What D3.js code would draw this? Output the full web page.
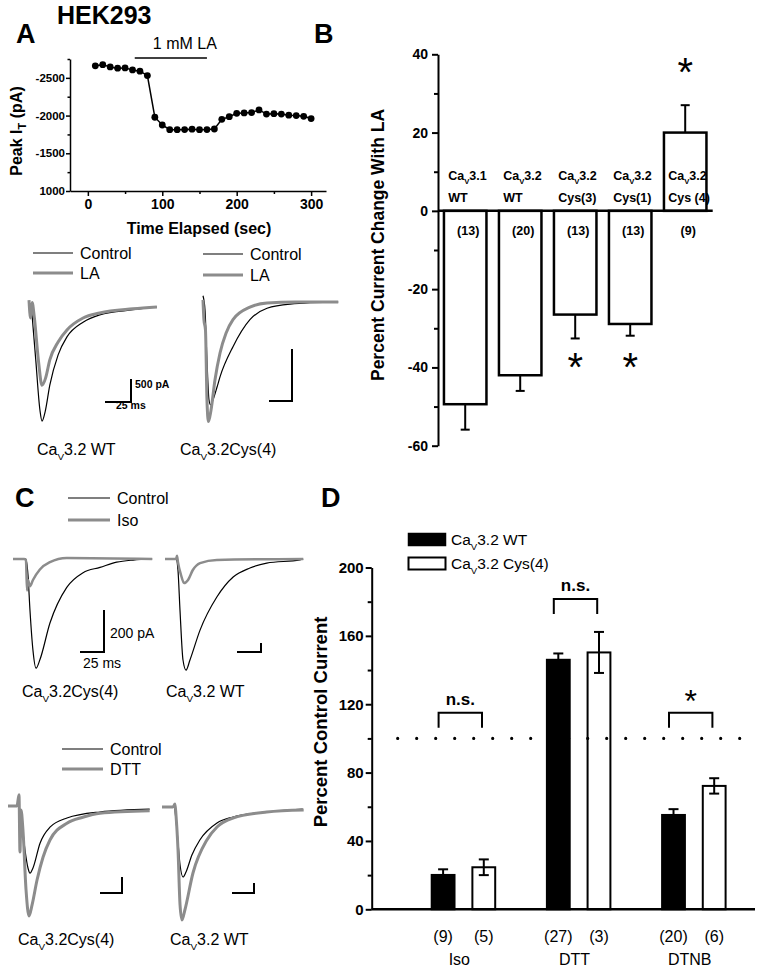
<!DOCTYPE html>
<html><head><meta charset="utf-8">
<script src="https://cdn.jsdelivr.net/npm/d3@7"></script>
<style>body{margin:0;background:#fff}svg{font-family:"Liberation Sans",Arial,sans-serif}</style>
</head><body>
<svg id="c" width="762" height="974"></svg>
<script>
// ---------- Panel A: time course ----------
const timeSec = [10,20,30,40,50,60,70,80,90,100,110,120,130,140,150,160,170,180,190,200,210,220,230,240,250,260,270,280,290,300];
const peakIT  = [2660,2675,2645,2628,2632,2605,2588,2530,1978,1875,1813,1813,1815,1820,1813,1815,1822,1950,1985,2030,2035,2040,2075,2020,2025,2020,2005,2000,1990,1960];
const laWindow = [63,160];
const aXTicks = [0,100,200,300];
const aXMinor = [50,150,250];
const aYTicks = [1000,1500,2000,2500];
const aYTickLabels = ["1000","-1500","-2000","-2500"];
const aYMinor = [1250,1750,2250,2750];

// ---------- Current traces: [time ms, current pA] ----------
const a1Ctrl = [[2,90],[6.5,-1150],[10.5,-2240],[12.5,-2480],[15.5,-2280],[20,-1700],[28,-1040],[36.5,-650],[52,-330],[68,-170],[100,-60],[123,0]];
const a1LA   = [[0,150],[1.5,-240],[3,100],[5,-200],[9,-1150],[12.5,-1700],[16,-1540],[20,-1150],[28,-760],[36.5,-500],[52,-240],[68,-130],[100,-40],[123,0]];
const a2Ctrl = [[0,60],[2.2,-80],[4.3,-560],[6.5,-940],[8.2,-990],[10.9,-940],[15.2,-820],[18.5,-720],[32.6,-430],[51,-170],[69.6,-60],[94.6,-20],[147,0]];
const a2LA   = [[0,20],[1,-170],[2.7,-270],[4.3,-940],[5.9,-1150],[8.7,-1040],[13,-750],[18.5,-490],[25,-300],[32.6,-170],[51,-50],[69.6,-10],[100,0],[147,0]];
const c1Ctrl = [[0,0],[13.5,0],[15.6,-75],[17.7,-245],[20.8,-435],[24,-520],[28,-480],[38.5,-305],[56,-135],[73,-65],[90.6,-40],[108,-15],[125,-5],[145,0]];
const c1Iso  = [[0,0],[11.5,0],[13.5,-5],[14.6,-150],[15.6,-100],[17.7,-130],[20.8,-100],[28,-50],[38.5,-15],[56,5],[145,0]];
const c2Ctrl = [[0,0],[11.5,0],[13.5,-245],[15.6,-1130],[18.75,-2245],[21.9,-2470],[26,-2245],[36.5,-1580],[54,-845],[71,-400],[88.5,-200],[106,-90],[140.6,-20],[144,0]];
const c2Iso  = [[0,0],[11.5,0],[12.5,70],[13.5,-70],[16.7,-355],[19.8,-535],[24,-465],[29,-245],[36.5,-90],[54,-20],[144,0]];
const c3Ctrl = [[0,0],[11.4,0],[14.8,-115],[19.3,-550],[22.7,-775],[25,-840],[28.4,-775],[36.4,-465],[47.7,-265],[67,-150],[104.5,-75],[161,-40]];
const c3DTT  = [[0,0],[10.2,0],[12.5,140],[13.6,-575],[14.8,-50],[17,-300],[20.5,-1050],[23.9,-1375],[27.3,-1240],[33,-925],[39.8,-640],[47.7,-425],[67,-215],[85,-140],[104.5,-90],[161,-60]];
const c4Ctrl = [[0,0],[13.6,0],[17,-460],[20.5,-1160],[23.9,-1400],[27.3,-1300],[34,-960],[43,-660],[62.5,-320],[80.7,-200],[119,-100],[160,-40]];
const c4DTT  = [[0,0],[12.5,0],[14.8,60],[15.9,-160],[18.2,-860],[20.5,-1960],[22.7,-2260],[26,-2060],[35.2,-1320],[51,-660],[62.5,-400],[80.7,-220],[119,-100],[161,-60]];

// ---------- Panel B ----------
const bLine1 = ["3.1","3.2","3.2","3.2","3.2"];
const bLine2 = ["WT","WT","Cys(3)","Cys(1)","Cys (4)"];
const bValues = [-49.4,-42.0,-26.5,-28.9,20.0];
const bErrors = [6.5,4.0,6.1,3.0,7.0];
const bN = ["(13)","(20)","(13)","(13)","(9)"];
const bStars = [null,null,-38.5,-38.5,36.8];
const bYTicks = [-60,-40,-20,0,20,40];
const bYMinor = [-50,-30,-10,10,30];

// ---------- Panel D ----------
const dGroups = ["Iso","DTT","DTNB"];
const dSeries = ["3.2 WT","3.2 Cys(4)"];
const dWT = [20.1,146.0,55.2];
const dWTErr = [3.3,3.7,3.4];
const dCys = [24.6,150.3,72.2];
const dCysErr = [4.6,12.0,4.5];
const dNWT = ["(9)","(27)","(20)"];
const dNCys = ["(5)","(3)","(6)"];
const dBracketY = [115,181.5,115];
const dBracketLabel = ["n.s.","n.s.","*"];
const dYTicks = [0,40,80,120,160,200];
const dYMinor = [20,60,100,140,180];
const dReference = 100;

const svg = d3.select("#c");
const GRAY = "#8c8c8c";
const plain = d => String(d);

function txt(g,x,y,s,size,bold,anchor){
  return g.append("text").attr("x",x).attr("y",y).attr("font-size",size)
    .attr("font-weight",bold?"bold":"normal").attr("text-anchor",anchor||"start").text(s);
}
function caText(g,x,y,rest,size,bold,anchor){
  const t = g.append("text").attr("x",x).attr("y",y).attr("font-size",size)
    .attr("font-weight",bold?"bold":"normal").attr("text-anchor",anchor||"start");
  t.append("tspan").text("Ca");
  t.append("tspan").attr("font-size",size*0.62).attr("dy",size*0.32).text("V");
  t.append("tspan").attr("dy",-size*0.32).text(rest);
  return t;
}
function styleAxis(g,size,sw){
  g.attr("font-family",null).attr("font-size",size).attr("font-weight","bold");
  g.selectAll("path,line").attr("stroke","#000").attr("stroke-width",sw);
  g.selectAll("text").attr("fill","#000");
}
function star(g,x,cy,size){
  return g.append("text").attr("x",x).attr("y",cy+size*0.48).attr("font-size",size)
    .attr("text-anchor","middle").text("*");
}

// ================= Panel A time course =================
const gA = svg.append("g");
txt(gA,57,24,"HEK293",25,true);
txt(gA,16,43,"A",27,true);
const ax = d3.scaleLinear().domain([-24,320]).range([70,326]);
const ay = d3.scaleLinear().domain([1000,2750]).range([191,59]);
const axB = gA.append("g").attr("transform","translate(0,191)")
  .call(d3.axisBottom(ax).tickValues(aXTicks).tickSize(5).tickPadding(3).tickSizeOuter(0).tickFormat(plain));
styleAxis(axB,14,1.5);
const axBm = gA.append("g").attr("transform","translate(0,191)")
  .call(d3.axisBottom(ax).tickValues(aXMinor).tickSize(3).tickFormat(""));
axBm.select(".domain").remove(); styleAxis(axBm,10,1.5);
const ayL = gA.append("g").attr("transform","translate(70,0)")
  .call(d3.axisLeft(ay).tickValues(aYTicks).tickSize(4).tickPadding(1).tickSizeOuter(0)
  .tickFormat((d,i)=>aYTickLabels[i]));
styleAxis(ayL,11.5,1.5);
const ayLm = gA.append("g").attr("transform","translate(70,0)")
  .call(d3.axisLeft(ay).tickValues(aYMinor).tickSize(2.5).tickFormat(""));
ayLm.select(".domain").remove(); styleAxis(ayLm,10,1.5);

const ptsA = timeSec.map((t,i)=>[t,peakIT[i]]);
gA.append("path").datum(ptsA).attr("fill","none").attr("stroke","#000").attr("stroke-width",1.5)
  .attr("d",d3.line().x(d=>ax(d[0])).y(d=>ay(d[1])));
gA.selectAll("circle.pt").data(ptsA).join("circle").attr("class","pt")
  .attr("cx",d=>ax(d[0])).attr("cy",d=>ay(d[1])).attr("r",3.4).attr("fill","#000");
gA.append("line").attr("x1",ax(laWindow[0])).attr("x2",ax(laWindow[1])).attr("y1",58).attr("y2",58)
  .attr("stroke","#000").attr("stroke-width",1.5);
txt(gA,(ax(laWindow[0])+ax(laWindow[1]))/2+14,49,"1 mM LA",16,false,"middle");
txt(gA,199,234,"Time Elapsed (sec)",16,true,"middle");
{
  const t = gA.append("text").attr("transform","translate(22,131) rotate(-90)")
    .attr("text-anchor","middle").attr("font-size",16).attr("font-weight","bold");
  t.append("tspan").text("Peak I");
  t.append("tspan").attr("font-size",11).attr("dy",4).text("T");
  t.append("tspan").attr("dy",-4).text(" (pA)");
}

// ================= Trace panels =================
function legend(g,x1,x2,y1,y2,l1,l2){
  g.append("line").attr("x1",x1).attr("x2",x2).attr("y1",y1).attr("y2",y1).attr("stroke","#000").attr("stroke-width",1.2);
  g.append("line").attr("x1",x1).attr("x2",x2).attr("y1",y2).attr("y2",y2).attr("stroke",GRAY).attr("stroke-width",3);
  txt(g,x2+7,y1+6,l1,16,false);
  txt(g,x2+7,y2+6,l2,16,false);
}
function tracePanel(cfg){
  const g = svg.append("g");
  const x = d3.scaleLinear().domain([0,1]).range([cfg.x0,cfg.x0+cfg.pxMs]);
  const y = d3.scaleLinear().domain([0,-1]).range([cfg.base,cfg.base+cfg.pxPA]);
  const line = d3.line().x(d=>x(d[0])).y(d=>y(d[1])).curve(d3.curveMonotoneX);
  g.append("path").datum(cfg.ctrl).attr("d",line).attr("fill","none").attr("stroke","#000").attr("stroke-width",1.2);
  g.append("path").datum(cfg.drug).attr("d",line).attr("fill","none").attr("stroke",GRAY).attr("stroke-width",cfg.gw||3).attr("stroke-linejoin","round");
  const hl = x(25)-x(0), vl = y(-cfg.sbPA)-y(0);
  g.append("path").attr("d",`M${cfg.sbX-hl},${cfg.sbY}H${cfg.sbX}V${cfg.sbY-vl}`)
    .attr("fill","none").attr("stroke","#000").attr("stroke-width",2);
  caText(g,cfg.tx,cfg.ty,cfg.title,16,false);
  return g;
}
const pA1 = tracePanel({x0:29,pxMs:1.04,base:307,pxPA:0.046,ctrl:a1Ctrl,drug:a1LA,sbX:131,sbY:402,sbPA:500,tx:37,ty:455,title:"3.2 WT"});
txt(pA1,135,388,"500 pA",10.5,true);
txt(pA1,116,409,"25 ms",10.5,true);
tracePanel({x0:203,pxMs:0.92,base:302,pxPA:0.104,ctrl:a2Ctrl,drug:a2LA,sbX:292,sbY:401,sbPA:500,tx:180,ty:455,title:"3.2Cys(4)"});
legend(svg,33,73,253,273,"Control","LA");
legend(svg,203,243,254,275,"Control","LA");

txt(svg,15,507,"C",27,true);
legend(svg,68,110,498,520,"Control","Iso");
const pC1 = tracePanel({x0:13,pxMs:0.96,base:559,pxPA:0.21,ctrl:c1Ctrl,drug:c1Iso,sbX:104,sbY:652,sbPA:200,tx:22,ty:697,title:"3.2Cys(4)",gw:2.5});
txt(pC1,110,638,"200 pA",14,false);
txt(pC1,83,668,"25 ms",14,false);
tracePanel({x0:165,pxMs:0.96,base:559,pxPA:0.045,ctrl:c2Ctrl,drug:c2Iso,sbX:261,sbY:652,sbPA:200,tx:166,ty:697,title:"3.2 WT",gw:2.5});
legend(svg,62,103,749,769,"Control","DTT");
tracePanel({x0:8,pxMs:0.88,base:806,pxPA:0.08,ctrl:c3Ctrl,drug:c3DTT,sbX:122,sbY:893,sbPA:200,tx:18,ty:945,title:"3.2Cys(4)"});
tracePanel({x0:162,pxMs:0.88,base:807,pxPA:0.05,ctrl:c4Ctrl,drug:c4DTT,sbX:254,sbY:893,sbPA:200,tx:170,ty:945,title:"3.2 WT"});

// ================= Panel B =================
const gB = svg.append("g");
txt(gB,314,43,"B",27,true);
const bx = d3.scaleBand().domain(d3.range(bValues.length)).range([442.7,707.7]).paddingInner(10/55).paddingOuter(0);
const by = d3.scaleLinear().domain([-60,40]).range([445.7,54.3]);
const bAx = gB.append("g").attr("transform","translate(438,0)")
  .call(d3.axisLeft(by).tickValues(bYTicks).tickSize(6).tickPadding(4).tickSizeOuter(0).tickFormat(plain));
styleAxis(bAx,14,2);
const bAxm = gB.append("g").attr("transform","translate(438,0)")
  .call(d3.axisLeft(by).tickValues(bYMinor).tickSize(4).tickFormat(""));
bAxm.select(".domain").remove(); styleAxis(bAxm,10,2);
bValues.forEach((v,i)=>{
  const x = bx(i), w = bx.bandwidth(), cx = x+w/2;
  gB.append("rect").attr("x",x+1.25).attr("y",by(Math.max(v,0))).attr("width",w-2.5)
    .attr("height",Math.abs(by(v)-by(0))).attr("fill","#fff").attr("stroke","#000").attr("stroke-width",2.5);
  const e = v<0 ? v-bErrors[i] : v+bErrors[i];
  gB.append("line").attr("x1",cx).attr("x2",cx).attr("y1",by(v)).attr("y2",by(e)).attr("stroke","#000").attr("stroke-width",2);
  gB.append("line").attr("x1",cx-4.5).attr("x2",cx+4.5).attr("y1",by(e)).attr("y2",by(e)).attr("stroke","#000").attr("stroke-width",2);
  caText(gB,cx-17,180,bLine1[i],12.5,true);
  txt(gB,cx-17,201.5,bLine2[i],12.5,true);
  txt(gB,cx+3,235,bN[i],12.5,true,"middle");
  if(bStars[i]!==null) star(gB,cx,by(bStars[i]),40);
});
gB.append("line").attr("x1",438).attr("x2",712.7).attr("y1",by(0)).attr("y2",by(0)).attr("stroke","#000").attr("stroke-width",2.5);
gB.append("text").attr("transform","translate(384,245) rotate(-90)").attr("text-anchor","middle")
  .attr("font-size",17.5).attr("font-weight","bold").text("Percent Current Change With LA");

// ================= Panel D =================
const gD = svg.append("g");
txt(gD,321,507,"D",27,true);
const dx0 = d3.scaleBand().domain(dGroups).range([405.7,751.3]);
const dx1 = d3.scaleBand().domain([0,1]).range([25,90.5]).paddingInner(0.39);
const dy = d3.scaleLinear().domain([0,200]).range([909.3,567.5]);
const dAx = gD.append("g").attr("transform","translate(371.7,0)")
  .call(d3.axisLeft(dy).tickValues(dYTicks).tickSize(6).tickPadding(2).tickSizeOuter(0).tickFormat(plain));
styleAxis(dAx,15,2);
const dAxm = gD.append("g").attr("transform","translate(371.7,0)")
  .call(d3.axisLeft(dy).tickValues(dYMinor).tickSize(4).tickFormat(""));
dAxm.select(".domain").remove(); styleAxis(dAxm,10,2);

const dSets = [{v:dWT,e:dWTErr,n:dNWT,fill:"#000"},{v:dCys,e:dCysErr,n:dNCys,fill:"#fff"}];
dGroups.forEach((grp,gi)=>{
  dSets.forEach((s,si)=>{
    const x = dx0(grp)+dx1(si), w = dx1.bandwidth(), cx = x+w/2, v = s.v[gi], e = s.e[gi];
    gD.append("rect").attr("x",x+1).attr("y",dy(v)).attr("width",w-2).attr("height",dy(0)-dy(v))
      .attr("fill",s.fill).attr("stroke","#000").attr("stroke-width",2);
    gD.append("line").attr("x1",cx).attr("x2",cx).attr("y1",dy(v-e)).attr("y2",dy(v+e)).attr("stroke","#000").attr("stroke-width",2);
    [v-e,v+e].forEach(k=>gD.append("line").attr("x1",cx-5).attr("x2",cx+5).attr("y1",dy(k)).attr("y2",dy(k)).attr("stroke","#000").attr("stroke-width",2));
    txt(gD,cx,941.7,s.n[gi],16,false,"middle");
  });
  const gc = dx0(grp)+dx0.bandwidth()/2;
  txt(gD,gc-4,965,grp,16,false,"middle");
  const bl = gc-3-21.7, br = gc-3+21.7, bt = dy(dBracketY[gi]);
  gD.append("path").attr("d",`M${bl},${bt+15}V${bt}H${br}V${bt+15}`).attr("fill","none").attr("stroke","#000").attr("stroke-width",2);
  if(dBracketLabel[gi]==="*") star(gD,gc-3,bt-16.5,32);
  else txt(gD,gc-3,bt-8,dBracketLabel[gi],17,true,"middle");
});
gD.append("line").attr("x1",371.7).attr("x2",755).attr("y1",dy(0)).attr("y2",dy(0)).attr("stroke","#000").attr("stroke-width",2.5);
gD.append("line").attr("x1",397.7).attr("x2",740).attr("y1",dy(dReference)).attr("y2",dy(dReference))
  .attr("stroke","#000").attr("stroke-width",3.2).attr("stroke-linecap","round").attr("stroke-dasharray","0,19");
// legend
gD.append("rect").attr("x",408.5).attr("y",533.5).attr("width",37).attr("height",12).attr("fill","#000").attr("stroke","#000").attr("stroke-width",1.5);
gD.append("rect").attr("x",408.5).attr("y",557.5).attr("width",37).attr("height",12).attr("fill","#fff").attr("stroke","#000").attr("stroke-width",2);
caText(gD,451,545,dSeries[0],15.5,false);
caText(gD,451,569,dSeries[1],15.5,false);
gD.append("text").attr("transform","translate(327,722) rotate(-90)").attr("text-anchor","middle")
  .attr("font-size",18.5).attr("font-weight","bold").text("Percent Control Current");
</script>
</body></html>
